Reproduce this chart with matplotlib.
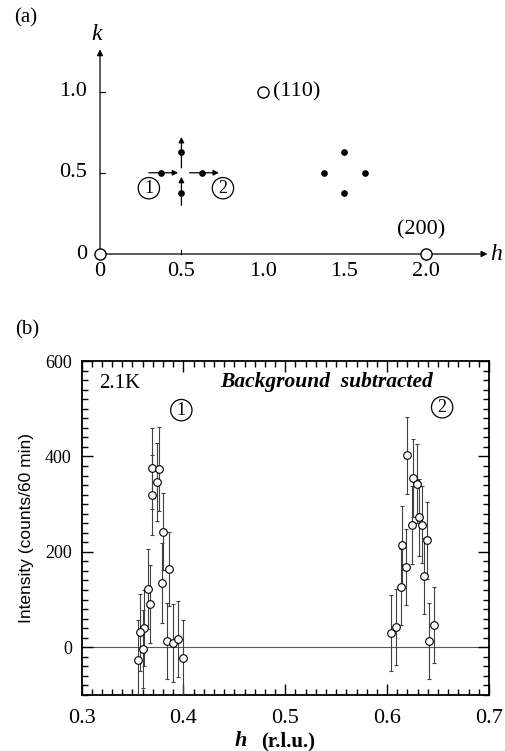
import matplotlib
matplotlib.use("Agg")
import matplotlib.pyplot as plt
import numpy as np
from matplotlib.ticker import MultipleLocator

# ---------------- data ----------------
# panel (a): reciprocal-space points
bragg_h = [0.0, 1.0, 2.0]
bragg_k = [0.0, 1.0, 0.0]
sat_h = [0.375, 0.625, 0.5, 0.5, 1.375, 1.625, 1.5, 1.5]
sat_k = [0.5, 0.5, 0.625, 0.375, 0.5, 0.5, 0.625, 0.375]
a_ticks = [0.0, 0.5, 1.0, 1.5, 2.0]
a_ticklabels = ["0", "0.5", "1.0", "1.5", "2.0"]
a_kticks = [0.0, 0.5, 1.0]
a_kticklabels = ["0", "0.5", "1.0"]

# panel (b): peak 1 and peak 2
h1 = [0.369, 0.376, 0.374, 0.369, 0.380, 0.386, 0.379, 0.365, 0.367,
      0.361, 0.357, 0.360, 0.355, 0.384, 0.390, 0.395, 0.400]
I1 = [375, 373, 346, 319, 242, 164, 134, 122, 90,
      40, 31, -4, -27, 13, 9, 17, -23]
e1 = [85, 88, 82, 84, 81, 78, 84, 84, 82,
      80, 80, 82, 84, 80, 82, 80, 80]
h2 = [0.620, 0.625, 0.629, 0.631, 0.624, 0.634, 0.639, 0.615, 0.619,
      0.636, 0.614, 0.609, 0.604, 0.646, 0.641]
I2 = [402, 355, 343, 272, 257, 257, 224, 214, 168,
      149, 126, 43, 30, 46, 13]
e2 = [80, 82, 82, 80, 82, 80, 80, 82, 80,
      80, 80, 80, 80, 80, 80]
b_xticks = [0.3, 0.4, 0.5, 0.6, 0.7]
b_xticklabels = ["0.3", "0.4", "0.5", "0.6", "0.7"]
b_yticks = [0, 200, 400, 600]

serif = "Liberation Serif"

fig = plt.figure(figsize=(5.05, 7.51), dpi=100)

# ---------------- panel (a) ----------------
axa = fig.add_axes([0.1497, 0.6293, 0.8382, 0.3246])
axa.set_xlim(-0.15, 2.45)
axa.set_ylim(-0.15, 1.35)
axa.axis("off")

axa.annotate("", xy=(2.38, 0), xytext=(0, 0),
             arrowprops=dict(arrowstyle="-|>", lw=0.9, color="k",
                             mutation_scale=9, shrinkA=0, shrinkB=0))
axa.annotate("", xy=(0, 1.26), xytext=(0, 0),
             arrowprops=dict(arrowstyle="-|>", lw=0.9, color="k",
                             mutation_scale=9, shrinkA=0, shrinkB=0))
axa.text(2.43, 0.0, "h", fontfamily=serif, style="italic", fontsize=17,
         ha="center", va="center")
axa.text(-0.02, 1.35, "k", fontfamily=serif, style="italic", fontsize=17,
         ha="center", va="center")

for t, lab in zip(a_ticks, a_ticklabels):
    axa.text(t, -0.05, lab, fontfamily=serif, fontsize=16,
             ha="center", va="top")
for t, lab in zip(a_kticks, a_kticklabels):
    axa.text(-0.08, t, lab, fontfamily=serif, fontsize=16,
             ha="right", va="center")
    if t > 0:
        axa.plot([0, 0.03], [t, t], color="k", lw=0.8)
axa.plot([0.5, 0.5], [0, 0.025], color="k", lw=0.8)

axa.plot(bragg_h, bragg_k, "o", ms=8, mfc="white", mec="k", mew=1.0,
         zorder=5, clip_on=False)
axa.plot(sat_h, sat_k, "o", ms=3.8, color="k", zorder=5)
axa.text(1.06, 1.0, "(110)", fontfamily=serif, fontsize=16,
         ha="left", va="center")
axa.text(1.97, 0.09, "(200)", fontfamily=serif, fontsize=16,
         ha="center", va="bottom")

arr = dict(arrowstyle="-|>", lw=0.9, color="k", mutation_scale=8,
           shrinkA=0, shrinkB=0)
axa.annotate("", xy=(0.48, 0.5), xytext=(0.30, 0.5), arrowprops=arr)
axa.annotate("", xy=(0.73, 0.5), xytext=(0.55, 0.5), arrowprops=arr)
axa.annotate("", xy=(0.5, 0.72), xytext=(0.5, 0.53), arrowprops=arr)
axa.annotate("", xy=(0.5, 0.475), xytext=(0.5, 0.30), arrowprops=arr)

circ = dict(boxstyle="circle,pad=0.12", fc="white", ec="k", lw=0.9)
axa.text(0.30, 0.405, "1", fontfamily=serif, fontsize=13, ha="center",
         va="center", bbox=circ)
axa.text(0.755, 0.405, "2", fontfamily=serif, fontsize=13, ha="center",
         va="center", bbox=circ)

fig.text(0.050, 0.976, "(a)", fontfamily=serif, fontsize=15,
         ha="center", va="center")
fig.text(0.054, 0.561, "(b)", fontfamily=serif, fontsize=15,
         ha="center", va="center")

# ---------------- panel (b) ----------------
axb = fig.add_axes([0.1614, 0.0746, 0.8069, 0.4447])
axb.set_xlim(0.3, 0.7)
axb.set_ylim(-100, 600)
axb.axhline(0, color="0.35", lw=0.8, zorder=1)

eb = dict(fmt="o", ms=5.5, mfc="white", mec="k", mew=0.8, ecolor="0.25",
          elinewidth=0.8, capsize=1.5, capthick=0.6, zorder=3)
axb.errorbar(h1, I1, yerr=e1, **eb)
axb.errorbar(h2, I2, yerr=e2, **eb)

axb.set_xticks(b_xticks)
axb.set_xticklabels(b_xticklabels, fontfamily=serif, fontsize=16)
axb.set_yticks(b_yticks)
axb.set_yticklabels([str(v) for v in b_yticks], fontfamily=serif,
                    fontsize=13)
axb.xaxis.set_minor_locator(MultipleLocator(0.01))
axb.yaxis.set_minor_locator(MultipleLocator(20))
axb.tick_params(which="both", direction="in", top=True, right=True,
                width=1.0)
axb.tick_params(which="major", length=8)
axb.tick_params(which="minor", length=4)
axb.tick_params(axis="x", which="major", pad=10)
axb.tick_params(axis="y", which="major", pad=7)
for s in axb.spines.values():
    s.set_linewidth(1.3)

axb.set_ylabel("Intensity (counts/60 min)", fontfamily="Liberation Sans",
               fontsize=12.5, labelpad=8)
fig.text(0.488, 1 - 741 / 751, "h", fontfamily=serif, fontsize=16,
         style="italic", fontweight="bold", ha="right", va="center")
fig.text(0.518, 1 - 741 / 751, "(r.l.u.)", fontfamily=serif, fontsize=15,
         fontweight="bold", ha="left", va="center")
axb.text(0.317, 553, "2.1K", fontfamily=serif, fontsize=15,
         ha="left", va="center")
axb.text(0.541, 555, "Background  subtracted", fontfamily=serif,
         fontsize=15.5, style="italic", fontweight="bold",
         ha="center", va="center")
circb = dict(boxstyle="circle,pad=0.12", fc="white", ec="k", lw=0.9)
axb.text(0.398, 497, "1", fontfamily=serif, fontsize=13, ha="center",
         va="center", bbox=circb)
axb.text(0.654, 503, "2", fontfamily=serif, fontsize=13, ha="center",
         va="center", bbox=circb)

fig.savefig("out.png", dpi=100)
